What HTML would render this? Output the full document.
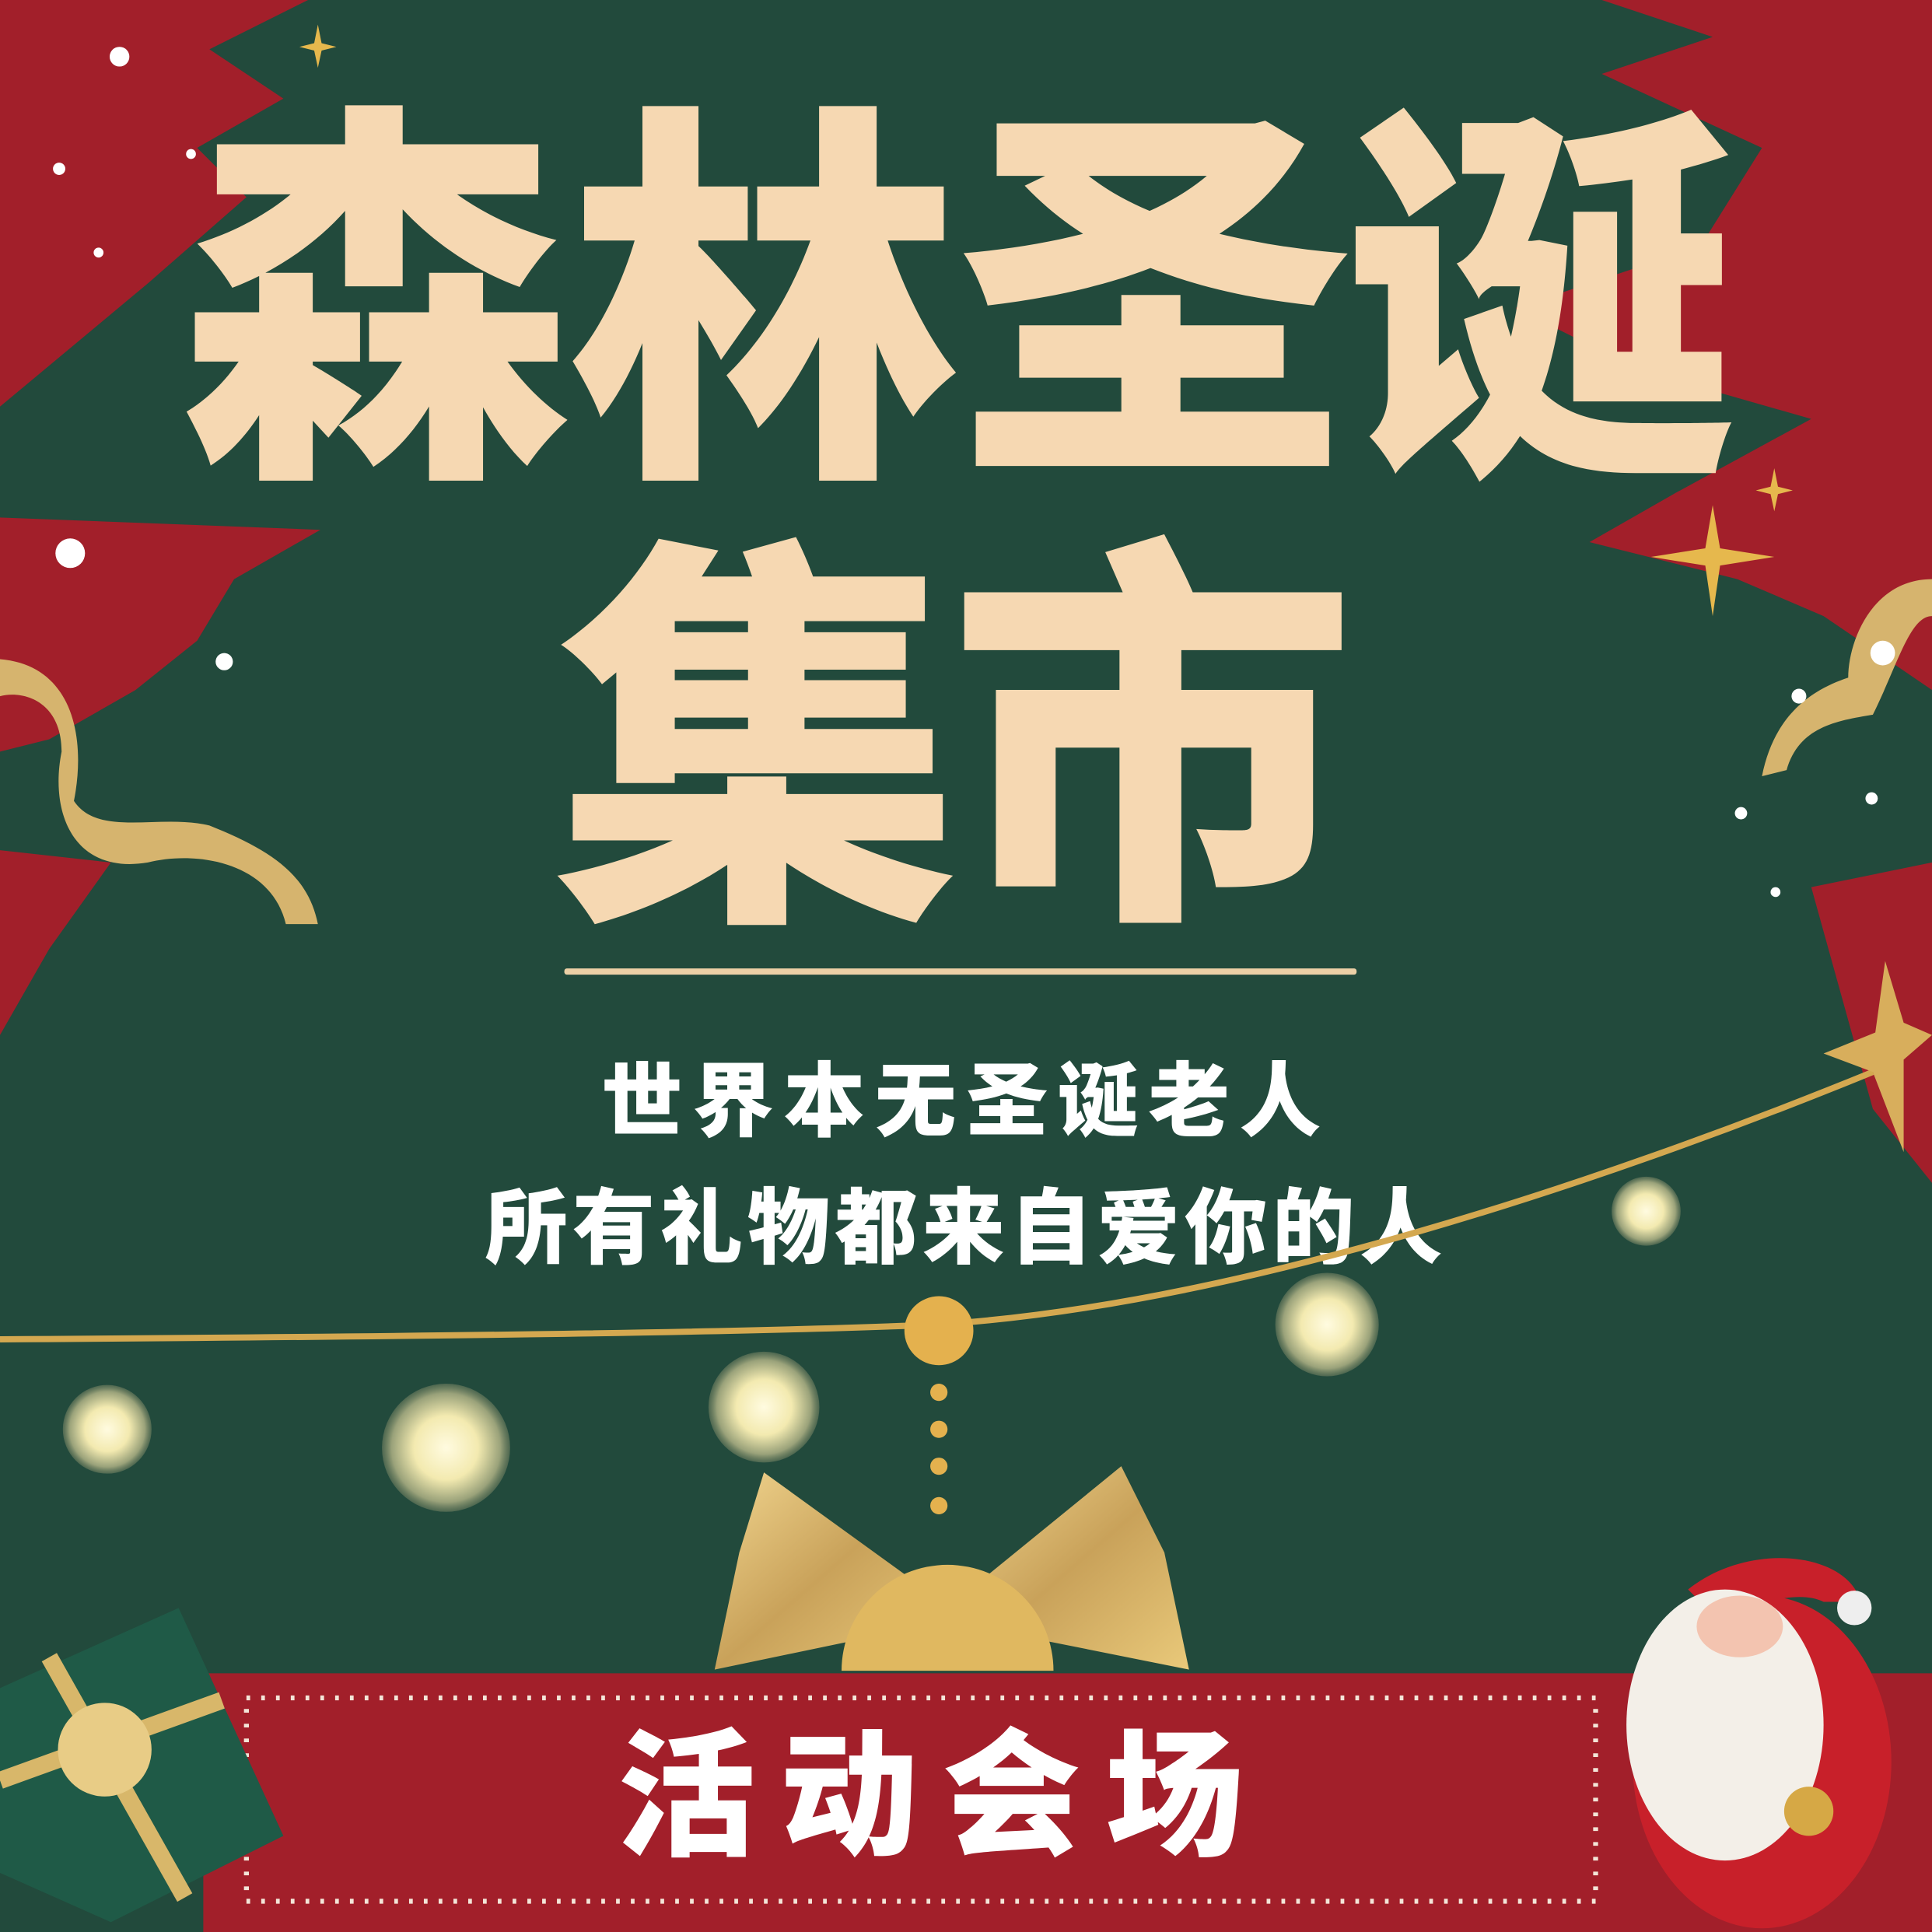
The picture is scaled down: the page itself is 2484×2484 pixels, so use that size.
<!DOCTYPE html>
<html><head><meta charset="utf-8"><style>
html,body{margin:0;padding:0;background:#214a3b;}
svg{display:block;}
.cjk{font-family:"Liberation Sans","Noto Sans CJK SC","WenQuanYi Zen Hei",sans-serif;font-weight:900;}
</style></head><body>
<svg width="2484" height="2484" viewBox="0 0 1568 1568" xmlns="http://www.w3.org/2000/svg">
<defs>
<radialGradient id="bulb" cx="50%" cy="50%" r="50%">
<stop offset="0" stop-color="#fffbe0"/><stop offset="0.5" stop-color="#f3eab0"/><stop offset="0.85" stop-color="#9aa27a"/><stop offset="1" stop-color="#6c7c5e" stop-opacity="0.6"/></radialGradient>
<linearGradient id="gold" x1="0" y1="0" x2="1" y2="1"><stop offset="0" stop-color="#f1d58f"/><stop offset="0.5" stop-color="#c9a25a"/><stop offset="1" stop-color="#e9c97a"/></linearGradient>
</defs>
<rect width="1568" height="1568" fill="#224a3c"/>
<g fill="#a21f2a">
<path d="M0,0 L250,0 L170,40 L230,80 L160,120 L200,160 L120,230 L60,280 L0,330 Z"/>
<path d="M0,420 L260,430 L190,470 L160,520 L110,560 L40,600 L0,610 Z"/>
<path d="M0,690 L90,700 L40,770 L0,840 Z"/>
<path d="M1300,0 L1568,0 L1568,560 L1480,500 L1410,470 L1290,440 L1360,400 L1470,340 L1330,300 L1230,250 L1380,200 L1430,120 L1300,60 L1390,30 Z"/>
<path d="M1470,720 L1568,700 L1568,960 L1520,900 Z"/>
<path d="M0,1400 L80,1380 L0,1430 Z"/>
</g>
<path d="M165,1358 L1568,1358 L1568,1568 L165,1568 Z" fill="#a21f2a"/>
<rect x="200" y="1378" width="1095" height="165" fill="none" stroke="#f3e5d8" stroke-width="4" stroke-dasharray="3 9"/>
<text class="cjk" x="765" y="1497" font-size="112" fill="#ffffff" text-anchor="middle" letter-spacing="20">活动会场</text>
<text class="cjk" x="775" y="360" font-size="320" fill="#f6d8b2" text-anchor="middle" letter-spacing="-5">森林圣诞</text>
<text class="cjk" x="770" y="720" font-size="330" fill="#f6d8b2" text-anchor="middle" letter-spacing="-10">集市</text>
<rect x="458" y="786" width="643" height="5" rx="2" fill="#ecd0a6"/>
<text class="cjk" x="784" y="917" font-size="66" fill="#ffffff" text-anchor="middle" letter-spacing="8">世界本无圣诞老人</text>
<text class="cjk" x="784" y="1020" font-size="67" fill="#ffffff" text-anchor="middle" letter-spacing="4">所有礼物都来自爱你的人</text>
<path d="M0,1087 C300,1085 600,1082 760,1075 C1000,1060 1300,960 1520,870" fill="none" stroke="#d4a850" stroke-width="5"/>
<path d="M1530,780 L1545,830 L1568,840 L1545,860 L1545,935 L1520,870 L1480,855 L1522,838 Z" fill="#d8ae5c"/>
<g>
<circle cx="87" cy="1160" r="36" fill="url(#bulb)"/>
<circle cx="362" cy="1175" r="52" fill="url(#bulb)"/>
<circle cx="620" cy="1142" r="45" fill="url(#bulb)"/>
<circle cx="1077" cy="1075" r="42" fill="url(#bulb)"/>
<circle cx="1336" cy="983" r="28" fill="url(#bulb)"/>
<circle cx="762" cy="1080" r="28" fill="#e4b14e"/>
<circle cx="762" cy="1130" r="7" fill="#e4b14e"/><circle cx="762" cy="1160" r="7" fill="#e4b14e"/>
<circle cx="762" cy="1190" r="7" fill="#e4b14e"/><circle cx="762" cy="1222" r="7" fill="#e4b14e"/>
</g>
<g fill="url(#gold)">
<path d="M765,1300 L620,1195 L600,1260 L580,1355 L700,1330 Z"/>
<path d="M775,1300 L910,1190 L945,1260 L965,1355 L840,1330 Z"/>
<path d="M683,1356 A86,86 0 0 1 855,1356 Z" fill="#e0b860"/>
</g>
<path d="M0,535 C60,540 70,600 60,650 C80,680 130,660 170,670 C220,690 250,710 258,750 L232,750 C220,700 160,690 120,700 C60,710 40,660 50,610 C50,570 20,560 0,565 Z" fill="#d6b46e"/>
<path d="M1568,470 C1520,470 1500,520 1500,550 C1470,560 1440,580 1430,630 L1450,625 C1460,590 1490,585 1520,580 C1540,540 1550,500 1568,500 Z" fill="#d6b46e"/>
<g>
<path d="M0,1370 L145,1305 L230,1490 L90,1560 L0,1520 Z" fill="#1f5a47"/>
<path d="M40,1345 L150,1540" stroke="#d8b76a" stroke-width="14"/>
<path d="M0,1445 L180,1380" stroke="#d8b76a" stroke-width="14"/>
<circle cx="85" cy="1420" r="38" fill="#e8cc86"/>
</g>
<g>
<path d="M1370,1290 C1420,1250 1500,1260 1510,1300 L1480,1300 C1460,1290 1420,1300 1400,1320 Z" fill="#c8202a"/>
<circle cx="1505" cy="1305" r="14" fill="#eee"/>
<ellipse cx="1430" cy="1430" rx="105" ry="135" fill="#c8202a"/>
<ellipse cx="1400" cy="1400" rx="80" ry="110" fill="#f3efe8"/>
<ellipse cx="1412" cy="1320" rx="35" ry="25" fill="#f3c4b0"/>
<circle cx="1468" cy="1470" r="20" fill="#d6a845"/>
</g>
<g fill="#ffffff">
<circle cx="97" cy="46" r="8"/><circle cx="48" cy="137" r="5"/><circle cx="80" cy="205" r="4"/>
<circle cx="57" cy="449" r="12"/><circle cx="182" cy="537" r="7"/><circle cx="1528" cy="530" r="10"/>
<circle cx="1460" cy="565" r="6"/><circle cx="1413" cy="660" r="5"/><circle cx="1519" cy="648" r="5"/>
<circle cx="1441" cy="724" r="4"/><circle cx="155" cy="125" r="4"/>
</g>
<g fill="#e6b84d">
<path d="M1390,410 L1396,445 L1440,452 L1396,459 L1390,500 L1384,459 L1340,452 L1384,445 Z"/>
<path d="M1440,380 L1443,395 L1455,398 L1443,401 L1440,415 L1437,401 L1425,398 L1437,395 Z"/>
<path d="M258,20 L261,35 L273,38 L261,41 L258,55 L255,41 L243,38 L255,35 Z"/>
</g>
</svg>
</body></html>
